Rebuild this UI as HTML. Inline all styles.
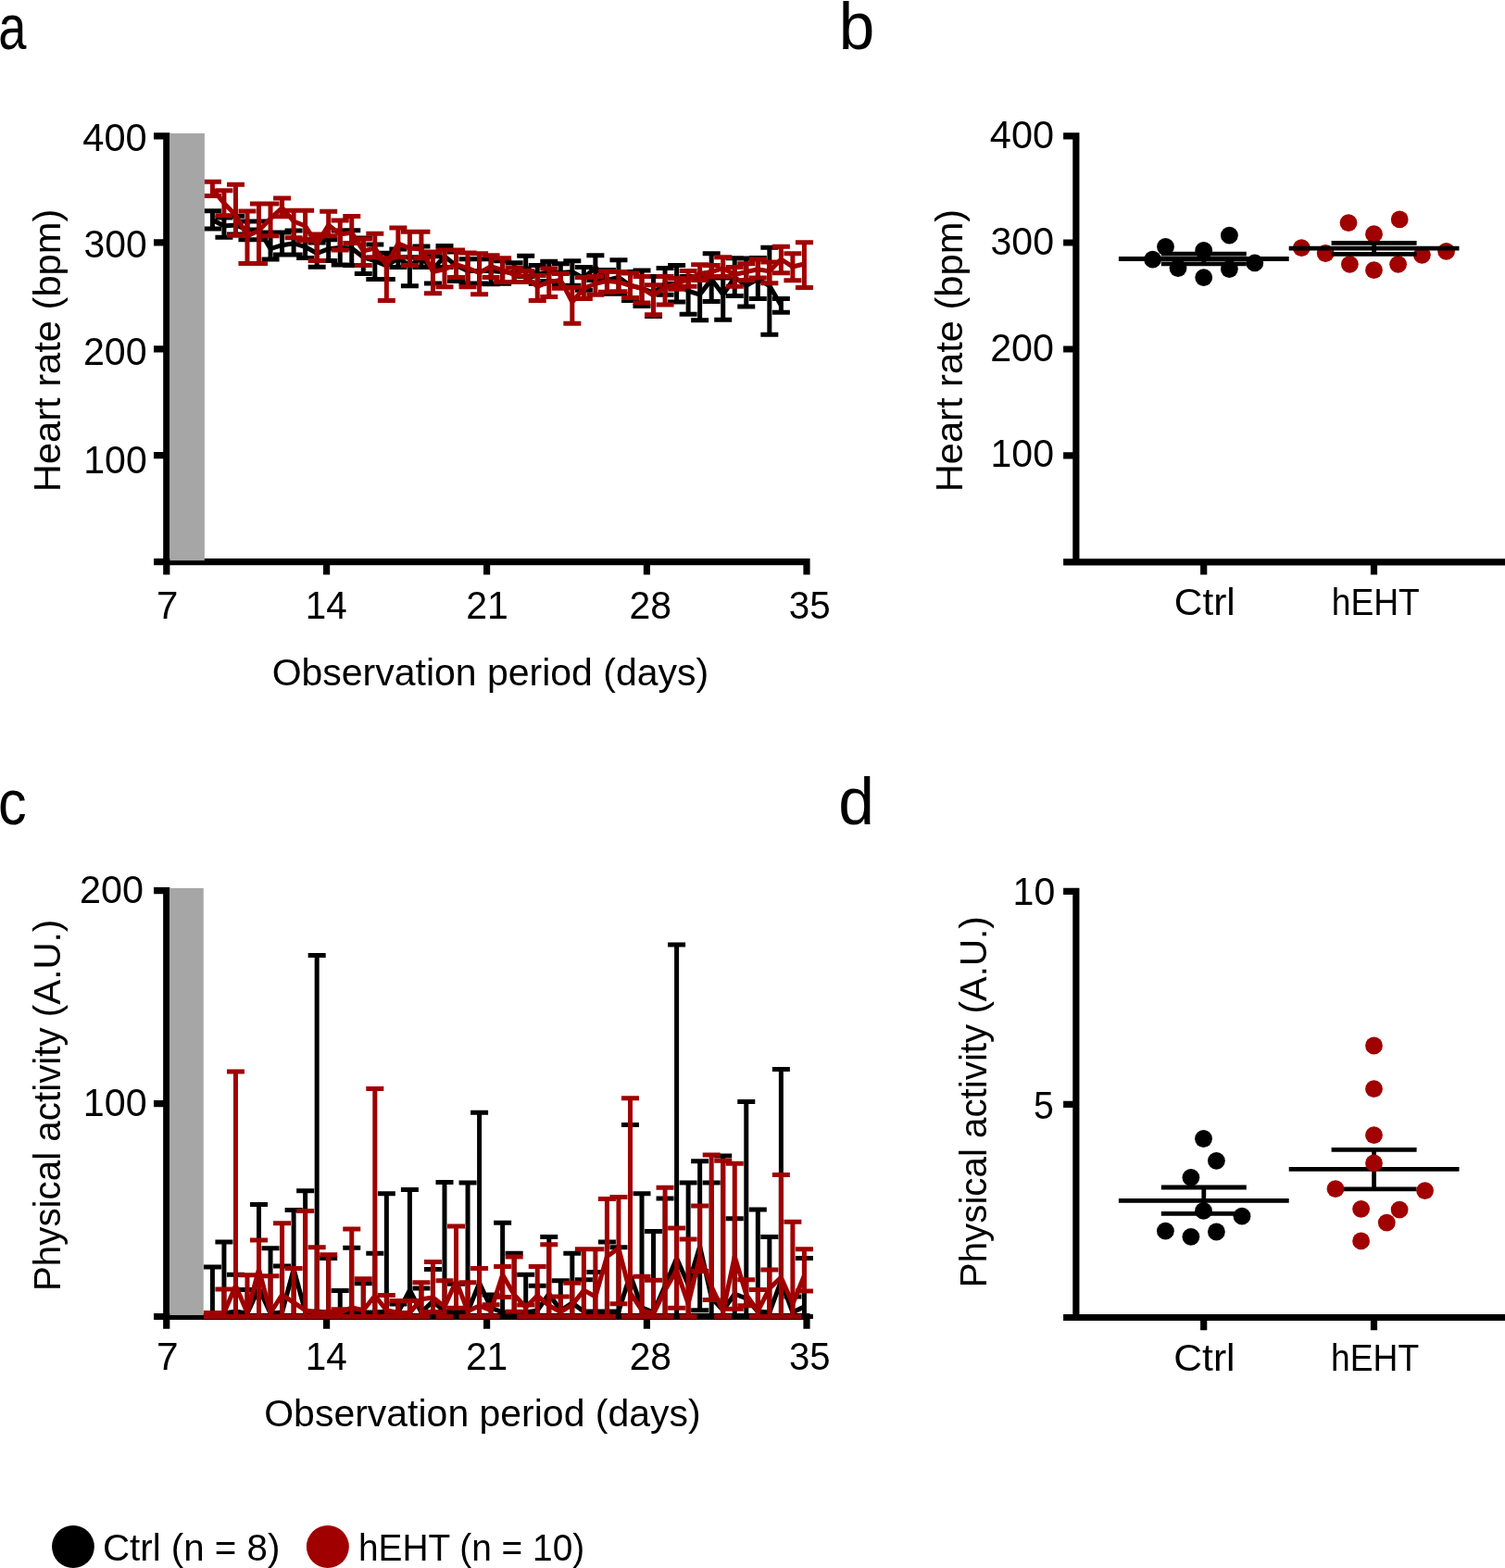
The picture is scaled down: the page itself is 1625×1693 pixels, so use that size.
<!DOCTYPE html>
<html lang="en"><head><meta charset="utf-8"><title>Heart rate and physical activity: Ctrl vs hEHT</title>
<style>
html,body{margin:0;padding:0;background:#fff;}
body{width:1625px;height:1693px;overflow:hidden;}
svg{display:block;font-family:"Liberation Sans", sans-serif;}
</style></head><body>
<svg width="1625" height="1693" viewBox="0 0 1625 1693">
<rect width="1625" height="1693" fill="#fff"/>
<defs><clipPath id="clipc"><rect x="0" y="900" width="900" height="524.9"/></clipPath></defs>
<g id="panel-a">
<path class="axis" d="M179.8 143.3V610.25M166 606.65H874.6M166 146.9H179.8M166 261.85H179.8M166 376.8H179.8M166 491.7H179.8M352.6 606.65V620.5M525.6 606.65V620.5M698.4 606.65V620.5M871 606.65V620.5M179.8 606.65V620.5" stroke="#000" stroke-width="7.2" fill="none"/>
<g class="series" stroke="#000" stroke-width="5" fill="none">
<path d="M229.4 227.8V247M219.9 227.8h19M219.9 247h19M241.93 235V256.3M232.43 235h19M232.43 256.3h19M254.46 233.2V252.9M244.96 233.2h19M244.96 252.9h19M266.99 239V258.8M257.49 239h19M257.49 258.8h19M279.52 239V258.8M270.02 239h19M270.02 258.8h19M292.05 250.9V280M282.55 250.9h19M282.55 280h19M304.58 250.9V275M295.08 250.9h19M295.08 275h19M317.11 249V275M307.61 249h19M307.61 275h19M329.64 258.8V278.5M320.14 258.8h19M320.14 278.5h19M342.17 262V288.3M332.67 262h19M332.67 288.3h19M354.7 258.8V281.4M345.2 258.8h19M345.2 281.4h19M367.23 249V285.9M357.73 249h19M357.73 285.9h19M379.76 248.7V286.6M370.26 248.7h19M370.26 286.6h19M392.29 257V295.5M382.79 257h19M382.79 295.5h19M404.82 264V301.4M395.32 264h19M395.32 301.4h19M417.35 273.3V301.4M407.85 273.3h19M407.85 301.4h19M429.88 269V288.6M420.38 269h19M420.38 288.6h19M442.41 277.8V308.8M432.91 277.8h19M432.91 308.8h19M454.94 266V288.6M445.44 266h19M445.44 288.6h19M467.47 276.8V305.9M457.97 276.8h19M457.97 305.9h19M480 265.5V288.6M470.5 265.5h19M470.5 288.6h19M492.53 272V303.4M483.03 272h19M483.03 303.4h19M505.06 279.8V305.9M495.56 279.8h19M495.56 305.9h19M517.59 279.8V305.9M508.09 279.8h19M508.09 305.9h19M530.12 279.8V306.8M520.62 279.8h19M520.62 306.8h19M542.65 281.7V306.3M533.15 281.7h19M533.15 306.3h19M555.18 283.7V304.4M545.68 283.7h19M545.68 304.4h19M567.71 276.3V298.5M558.21 276.3h19M558.21 298.5h19M580.24 286.6V306.3M570.74 286.6h19M570.74 306.3h19M592.77 282.2V303.4M583.27 282.2h19M583.27 303.4h19M605.3 284.7V308.3M595.8 284.7h19M595.8 308.3h19M617.83 281.7V308.3M608.33 281.7h19M608.33 308.3h19M630.36 288.6V313.2M620.86 288.6h19M620.86 313.2h19M642.89 275.8V302.4M633.39 275.8h19M633.39 302.4h19M655.42 291.6V317.2M645.92 291.6h19M645.92 317.2h19M667.95 280.7V317.2M658.45 280.7h19M658.45 317.2h19M680.48 293.5V324.6M670.98 293.5h19M670.98 324.6h19M693.01 292.1V330.5M683.51 292.1h19M683.51 330.5h19M705.54 298.5V341.5M696.04 298.5h19M696.04 341.5h19M718.07 289.6V318.2M708.57 289.6h19M708.57 318.2h19M730.6 286.6V326M721.1 286.6h19M721.1 326h19M743.13 298.5V339.3M733.63 298.5h19M733.63 339.3h19M755.66 300V345.7M746.16 300h19M746.16 345.7h19M768.19 273.8V325.5M758.69 273.8h19M758.69 325.5h19M780.72 300V345.2M771.22 300h19M771.22 345.2h19M793.25 278.8V319.6M783.75 278.8h19M783.75 319.6h19M805.78 279V331M796.28 279h19M796.28 331h19M818.31 278.6V322.4M808.81 278.6h19M808.81 322.4h19M830.84 267.3V361.3M821.34 267.3h19M821.34 361.3h19M843.37 322.4V337.2M833.87 322.4h19M833.87 337.2h19"/>
<polyline points="229.4,237.6 241.93,244 254.46,243 266.99,248 279.52,248 292.05,268.6 304.58,264.7 317.11,262.7 329.64,266.6 342.17,273.5 354.7,268.6 367.23,267.6 379.76,268 392.29,277.8 404.82,281.7 417.35,287 429.88,278.8 442.41,286.6 454.94,278.8 467.47,290.6 480,276.8 492.53,286.6 505.06,292.6 517.59,292.6 530.12,292.6 542.65,293.5 555.18,294.5 567.71,288.6 580.24,296.5 592.77,293.5 605.3,294.5 617.83,293.5 630.36,300.4 642.89,288.6 655.42,302.4 667.95,299.5 680.48,308.3 693.01,311.3 705.54,316.2 718.07,306.3 730.6,306.3 743.13,314.2 755.66,318.2 768.19,301.4 780.72,318.2 793.25,299.5 805.78,308.3 818.31,301.4 830.84,308.6 843.37,329.8" stroke-linejoin="miter"/>
</g>
<g class="series" stroke="#a00000" stroke-width="5" fill="none">
<path d="M229.4 196.2V211.5M219.9 196.2h19M219.9 211.5h19M241.93 205.8V232.7M232.43 205.8h19M232.43 232.7h19M254.46 199.2V254.3M244.96 199.2h19M244.96 254.3h19M266.99 228V284.4M257.49 228h19M257.49 284.4h19M279.52 220V284.4M270.02 220h19M270.02 284.4h19M292.05 220V254.8M282.55 220h19M282.55 254.8h19M304.58 214V233.7M295.08 214h19M295.08 233.7h19M317.11 227.3V256.8M307.61 227.3h19M307.61 256.8h19M329.64 227.3V259.8M320.14 227.3h19M320.14 259.8h19M342.17 252.9V281.4M332.67 252.9h19M332.67 281.4h19M354.7 228.2V254.8M345.2 228.2h19M345.2 254.8h19M367.23 238.1V270.1M357.73 238.1h19M357.73 270.1h19M379.76 233.5V262.5M370.26 233.5h19M370.26 262.5h19M392.29 258V286.6M382.79 258h19M382.79 286.6h19M404.82 252.2V277.8M395.32 252.2h19M395.32 277.8h19M417.35 278.8V324.6M407.85 278.8h19M407.85 324.6h19M429.88 246V277.8M420.38 246h19M420.38 277.8h19M442.41 250.2V286.6M432.91 250.2h19M432.91 286.6h19M454.94 250.2V278.8M445.44 250.2h19M445.44 278.8h19M467.47 271.9V316.7M457.97 271.9h19M457.97 316.7h19M480 269.9V309.8M470.5 269.9h19M470.5 309.8h19M492.53 269.9V299.5M483.03 269.9h19M483.03 299.5h19M505.06 272.9V309.8M495.56 272.9h19M495.56 309.8h19M517.59 273.8V317.7M508.09 273.8h19M508.09 317.7h19M530.12 275.8V299.5M520.62 275.8h19M520.62 299.5h19M542.65 278.8V304.4M533.15 278.8h19M533.15 304.4h19M555.18 289.1V304.4M545.68 289.1h19M545.68 304.4h19M567.71 292.6V304.4M558.21 292.6h19M558.21 304.4h19M580.24 297.5V324.6M570.74 297.5h19M570.74 324.6h19M592.77 290.1V320.6M583.27 290.1h19M583.27 320.6h19M605.3 295.5V311.3M595.8 295.5h19M595.8 311.3h19M617.83 310.3V349.2M608.33 310.3h19M608.33 349.2h19M630.36 299.5V322.6M620.86 299.5h19M620.86 322.6h19M642.89 298.5V318.2M633.39 298.5h19M633.39 318.2h19M655.42 293V315.2M645.92 293h19M645.92 315.2h19M667.95 293.5V314.7M658.45 293.5h19M658.45 314.7h19M680.48 295V321.6M670.98 295h19M670.98 321.6h19M693.01 298.5V327M683.51 298.5h19M683.51 327h19M705.54 307.8V339.8M696.04 307.8h19M696.04 339.8h19M718.07 298.5V329M708.57 298.5h19M708.57 329h19M730.6 300.4V312.2M721.1 300.4h19M721.1 312.2h19M743.13 292.6V309.3M733.63 292.6h19M733.63 309.3h19M755.66 285.7V302.4M746.16 285.7h19M746.16 302.4h19M768.19 286.6V298.5M758.69 286.6h19M758.69 298.5h19M780.72 277.8V298.5M771.22 277.8h19M771.22 298.5h19M793.25 288.6V309.3M783.75 288.6h19M783.75 309.3h19M805.78 284.7V302.4M796.28 284.7h19M796.28 302.4h19M818.31 280V300M808.81 280h19M808.81 300h19M830.84 283V305.7M821.34 283h19M821.34 305.7h19M843.37 266.3V294.8M833.87 266.3h19M833.87 294.8h19M855.9 273.7V302.7M846.4 273.7h19M846.4 302.7h19M868.43 261.8V310.6M858.93 261.8h19M858.93 310.6h19"/>
<polyline points="229.4,204.1 241.93,219.4 254.46,232.2 266.99,254.8 279.52,249 292.05,236 304.58,224.3 317.11,239 329.64,244 342.17,263.7 354.7,243 367.23,252.9 379.76,251.2 392.29,270.9 404.82,268 417.35,286.6 429.88,263 442.41,268 454.94,269 467.47,293.5 480,290.6 492.53,285.7 505.06,289.6 517.59,294.5 530.12,287.6 542.65,291.6 555.18,296.5 567.71,298.5 580.24,309.3 592.77,304.4 605.3,302.4 617.83,326 630.36,311.3 642.89,306.3 655.42,303.4 667.95,304.4 680.48,308.3 693.01,311.3 705.54,319.1 718.07,310.3 730.6,306.3 743.13,301.4 755.66,295.5 768.19,293.5 780.72,289.6 793.25,296.5 805.78,293.5 818.31,290.9 830.84,292.9 843.37,280 855.9,288 868.43,285" stroke-linejoin="miter"/>
</g>
<rect x="183.4" y="144" width="37.5" height="461.2" fill="#a6a6a6"/>
</g>
<g id="panel-c">
<path class="axis" d="M179.75 958V1425.1M166 1421.5H874.6M166 961.6H179.75M166 1191.55H179.75M352.6 1421.5V1434.8M525.6 1421.5V1434.8M698.4 1421.5V1434.8M871 1421.5V1434.8M179.75 1421.5V1434.8" stroke="#000" stroke-width="7.2" fill="none"/>
<g class="series" stroke="#000" stroke-width="5" fill="none" clip-path="url(#clipc)">
<path d="M229.4 1368V1421.4M219.9 1368h19M219.9 1421.4h19M241.93 1340.9V1421.4M232.43 1340.9h19M232.43 1421.4h19M254.46 1376.3V1421.4M244.96 1376.3h19M244.96 1421.4h19M266.99 1392.6V1421.4M257.49 1392.6h19M257.49 1421.4h19M279.52 1300.5V1421.4M270.02 1300.5h19M270.02 1421.4h19M292.05 1347.8V1421.4M282.55 1347.8h19M282.55 1421.4h19M304.58 1367V1421.4M295.08 1367h19M295.08 1421.4h19M317.11 1306.4V1421.4M307.61 1306.4h19M307.61 1421.4h19M329.64 1285.8V1421.4M320.14 1285.8h19M320.14 1421.4h19M342.17 1031.4V1421.4M332.67 1031.4h19M332.67 1421.4h19M354.7 1358.6V1421.4M345.2 1358.6h19M345.2 1421.4h19M367.23 1393.6V1421.4M357.73 1393.6h19M357.73 1421.4h19M379.76 1347.3V1421.4M370.26 1347.3h19M370.26 1421.4h19M392.29 1385.7V1421.4M382.79 1385.7h19M382.79 1421.4h19M404.82 1353.2V1421.4M395.32 1353.2h19M395.32 1421.4h19M417.35 1288.7V1421.4M407.85 1288.7h19M407.85 1421.4h19M429.88 1407.9V1421.4M420.38 1407.9h19M420.38 1421.4h19M442.41 1284.6V1421.4M432.91 1284.6h19M432.91 1421.4h19M454.94 1391.1V1421.4M445.44 1391.1h19M445.44 1421.4h19M467.47 1370.4V1421.4M457.97 1370.4h19M457.97 1421.4h19M480 1276.4V1421.4M470.5 1276.4h19M470.5 1421.4h19M492.53 1386.2V1421.4M483.03 1386.2h19M483.03 1421.4h19M505.06 1276.9V1421.4M495.56 1276.9h19M495.56 1421.4h19M517.59 1201.3V1421.4M508.09 1201.3h19M508.09 1421.4h19M530.12 1398V1421.4M520.62 1398h19M520.62 1421.4h19M542.65 1320.2V1421.4M533.15 1320.2h19M533.15 1421.4h19M555.18 1353.2V1421.4M545.68 1353.2h19M545.68 1421.4h19M567.71 1376.3V1421.4M558.21 1376.3h19M558.21 1421.4h19M580.24 1388.2V1421.4M570.74 1388.2h19M570.74 1421.4h19M592.77 1335.5V1421.4M583.27 1335.5h19M583.27 1421.4h19M605.3 1382.7V1421.4M595.8 1382.7h19M595.8 1421.4h19M617.83 1353.2V1421.4M608.33 1353.2h19M608.33 1421.4h19M630.36 1381.8V1421.4M620.86 1381.8h19M620.86 1421.4h19M642.89 1373.4V1421.4M633.39 1373.4h19M633.39 1421.4h19M655.42 1340.9V1421.4M645.92 1340.9h19M645.92 1421.4h19M667.95 1346.8V1421.4M658.45 1346.8h19M658.45 1421.4h19M680.48 1214.5V1421.4M670.98 1214.5h19M670.98 1421.4h19M693.01 1288.7V1421.4M683.51 1288.7h19M683.51 1421.4h19M705.54 1329.6V1421.4M696.04 1329.6h19M696.04 1421.4h19M718.07 1294.1V1421.4M708.57 1294.1h19M708.57 1421.4h19M730.6 1019.9V1421.4M721.1 1019.9h19M721.1 1421.4h19M743.13 1276.9V1421.4M733.63 1276.9h19M733.63 1421.4h19M755.66 1253.8V1414.7M746.16 1253.8h19M746.16 1414.7h19M768.19 1276.9V1421.4M758.69 1276.9h19M758.69 1421.4h19M780.72 1248V1421.4M771.22 1248h19M771.22 1421.4h19M793.25 1315.8V1421.4M783.75 1315.8h19M783.75 1421.4h19M805.78 1189.4V1421.4M796.28 1189.4h19M796.28 1421.4h19M818.31 1306V1421.4M808.81 1306h19M808.81 1421.4h19M830.84 1335.5V1421.4M821.34 1335.5h19M821.34 1421.4h19M843.37 1154.4V1421.4M833.87 1154.4h19M833.87 1421.4h19M855.9 1400V1421.4M846.4 1400h19M846.4 1421.4h19M868.43 1358.6V1421.4M858.93 1358.6h19M858.93 1421.4h19"/>
<polyline points="229.4,1418 241.93,1418 254.46,1416 266.99,1418 279.52,1391 292.05,1418 304.58,1417 317.11,1370.4 329.64,1416 342.17,1416 354.7,1417 367.23,1418 379.76,1417 392.29,1417 404.82,1417 417.35,1416 429.88,1417 442.41,1393 454.94,1417 467.47,1405 480,1416 492.53,1417 505.06,1416 517.59,1385.2 530.12,1412 542.65,1417 555.18,1417 567.71,1417 580.24,1415 592.77,1397 605.3,1415 617.83,1406.9 630.36,1416 642.89,1416 655.42,1416 667.95,1416 680.48,1376.3 693.01,1411.8 705.54,1417 718.07,1388.2 730.6,1358.6 743.13,1387 755.66,1345.8 768.19,1401 780.72,1414.7 793.25,1397 805.78,1402 818.31,1416 830.84,1417 843.37,1383.2 855.9,1417 868.43,1410.8" stroke-linejoin="miter"/>
</g>
<g class="series" stroke="#a00000" stroke-width="5" fill="none" clip-path="url(#clipc)">
<path d="M229.4 1417.5V1421.4M219.9 1417.5h19M219.9 1421.4h19M241.93 1392.1V1421.4M232.43 1392.1h19M232.43 1421.4h19M254.46 1157.1V1421.4M244.96 1157.1h19M244.96 1421.4h19M266.99 1376.8V1421.4M257.49 1376.8h19M257.49 1421.4h19M279.52 1338.9V1421.4M270.02 1338.9h19M270.02 1421.4h19M292.05 1377.8V1421.4M282.55 1377.8h19M282.55 1421.4h19M304.58 1320.7V1421.4M295.08 1320.7h19M295.08 1421.4h19M317.11 1369.4V1421.4M307.61 1369.4h19M307.61 1421.4h19M329.64 1307.4V1421.4M320.14 1307.4h19M320.14 1421.4h19M342.17 1346.8V1421.4M332.67 1346.8h19M332.67 1421.4h19M354.7 1354.7V1421.4M345.2 1354.7h19M345.2 1421.4h19M367.23 1413.8V1421.4M357.73 1413.8h19M357.73 1421.4h19M379.76 1327.1V1421.4M370.26 1327.1h19M370.26 1421.4h19M392.29 1380.8V1421.4M382.79 1380.8h19M382.79 1421.4h19M404.82 1175.4V1421.4M395.32 1175.4h19M395.32 1421.4h19M417.35 1398.5V1421.4M407.85 1398.5h19M407.85 1421.4h19M429.88 1404.4V1421.4M420.38 1404.4h19M420.38 1421.4h19M442.41 1404.4V1421.4M432.91 1404.4h19M432.91 1421.4h19M454.94 1384.7V1421.4M445.44 1384.7h19M445.44 1421.4h19M467.47 1362.6V1416.5M457.97 1362.6h19M457.97 1416.5h19M480 1382.7V1421.4M470.5 1382.7h19M470.5 1421.4h19M492.53 1324V1412.3M483.03 1324h19M483.03 1412.3h19M505.06 1384.7V1421.4M495.56 1384.7h19M495.56 1421.4h19M517.59 1369.4V1421.4M508.09 1369.4h19M508.09 1421.4h19M530.12 1408.8V1421.4M520.62 1408.8h19M520.62 1421.4h19M542.65 1367.5V1400.5M533.15 1367.5h19M533.15 1400.5h19M555.18 1357.1V1416.2M545.68 1357.1h19M545.68 1416.2h19M567.71 1409V1421.4M558.21 1409h19M558.21 1421.4h19M580.24 1367.5V1421.4M570.74 1367.5h19M570.74 1421.4h19M592.77 1343.8V1421.4M583.27 1343.8h19M583.27 1421.4h19M605.3 1400V1421.4M595.8 1400h19M595.8 1421.4h19M617.83 1385.2V1421.4M608.33 1385.2h19M608.33 1421.4h19M630.36 1348.8V1421.4M620.86 1348.8h19M620.86 1421.4h19M642.89 1348.8V1421.4M633.39 1348.8h19M633.39 1421.4h19M655.42 1294.6V1421.4M645.92 1294.6h19M645.92 1421.4h19M667.95 1292.6V1407.8M658.45 1292.6h19M658.45 1407.8h19M680.48 1185.8V1421.4M670.98 1185.8h19M670.98 1421.4h19M693.01 1378.3V1421.4M683.51 1378.3h19M683.51 1421.4h19M705.54 1382.2V1421.4M696.04 1382.2h19M696.04 1421.4h19M718.07 1282.3V1421.4M708.57 1282.3h19M708.57 1421.4h19M730.6 1326.1V1412.3M721.1 1326.1h19M721.1 1412.3h19M743.13 1338V1421.4M733.63 1338h19M733.63 1421.4h19M755.66 1302V1372.4M746.16 1302h19M746.16 1372.4h19M768.19 1246.9V1403.4M758.69 1246.9h19M758.69 1403.4h19M780.72 1253.2V1421.4M771.22 1253.2h19M771.22 1421.4h19M793.25 1256.3V1413.3M783.75 1256.3h19M783.75 1413.3h19M805.78 1381.8V1409.8M796.28 1381.8h19M796.28 1409.8h19M818.31 1392.6V1421.4M808.81 1392.6h19M808.81 1421.4h19M830.84 1370.9V1421.4M821.34 1370.9h19M821.34 1421.4h19M843.37 1268.5V1421.4M833.87 1268.5h19M833.87 1421.4h19M855.9 1319.2V1421.4M846.4 1319.2h19M846.4 1421.4h19M868.43 1348.8V1394M858.93 1348.8h19M858.93 1394h19"/>
<polyline points="229.4,1418.5 241.93,1417.5 254.46,1388.2 266.99,1417.5 279.52,1370.4 292.05,1417.5 304.58,1398 317.11,1406.4 329.64,1414.7 342.17,1417.5 354.7,1416 367.23,1417 379.76,1411.8 392.29,1414.7 404.82,1399 417.35,1414.7 429.88,1417.5 442.41,1417.5 454.94,1402.9 467.47,1401 480,1410.8 492.53,1383.2 505.06,1415.7 517.59,1410 530.12,1414.7 542.65,1376.3 555.18,1398 567.71,1411.5 580.24,1399 592.77,1409.8 605.3,1416.7 617.83,1408.8 630.36,1393.1 642.89,1400 655.42,1356.6 667.95,1347.8 680.48,1396 693.01,1414.7 705.54,1418.7 718.07,1393 730.6,1371.4 743.13,1407.8 755.66,1356.6 768.19,1389 780.72,1415.7 793.25,1356.6 805.78,1398 818.31,1415.7 830.84,1391.1 843.37,1379.3 855.9,1407.8 868.43,1377.3" stroke-linejoin="miter"/>
</g>
<rect x="183.3" y="959" width="36.45" height="461" fill="#a6a6a6"/>
</g>
<g id="panel-b">
<path class="axis" d="M1161.85 143.3V610.4M1148.1 606.8H1625M1148.1 146.9H1161.85M1148.1 262H1161.85M1148.1 377H1161.85M1148.1 491.9H1161.85M1299.7 606.8V620.5M1483.5 606.8V620.5" stroke="#000" stroke-width="7.2" fill="none"/>
<g class="dots" fill="#000">
<circle cx="1244.6" cy="280.2" r="9.4"/>
<circle cx="1258.5" cy="266.5" r="9.4"/>
<circle cx="1272" cy="289.5" r="9.4"/>
<circle cx="1299.7" cy="270.5" r="9.4"/>
<circle cx="1299.7" cy="299.7" r="9.4"/>
<circle cx="1327.4" cy="254.2" r="9.4"/>
<circle cx="1327.4" cy="290.5" r="9.4"/>
<circle cx="1354.8" cy="283.9" r="9.4"/>
</g>
<g class="dots" fill="#a00000">
<circle cx="1405.3" cy="267.7" r="9.4"/>
<circle cx="1431.2" cy="273.5" r="9.4"/>
<circle cx="1456" cy="240.6" r="9.4"/>
<circle cx="1457.4" cy="285.3" r="9.4"/>
<circle cx="1483.5" cy="252.7" r="9.4"/>
<circle cx="1483.5" cy="291.7" r="9.4"/>
<circle cx="1511.2" cy="236.9" r="9.4"/>
<circle cx="1509.6" cy="285.3" r="9.4"/>
<circle cx="1535.4" cy="275.3" r="9.4"/>
<circle cx="1561.6" cy="271.4" r="9.4"/>
</g>
<path class="mean" d="M1207.9 279.5h183.8M1253.8 274.2h92M1253.8 284.9h92M1299.8 274.2V284.9" stroke="#000" stroke-width="4.8" fill="none"/>
<path class="mean" d="M1391.7 268.1h183.8M1437.6 262.4h92M1437.6 274.3h92M1483.6 262.4V274.3" stroke="#000" stroke-width="4.8" fill="none"/>
</g>
<g id="panel-d">
<path class="axis" d="M1161.85 958.7V1426.1M1148.1 1422.5H1625M1148.1 962.3H1161.85M1148.1 1192.4H1161.85M1299.7 1422.5V1436.2M1483.5 1422.5V1436.2" stroke="#000" stroke-width="7.2" fill="none"/>
<path class="mean" d="M1207.9 1296.3h183.8M1253.8 1282h92M1253.8 1310.4h92M1299.8 1282V1310.4" stroke="#000" stroke-width="4.8" fill="none"/>
<path class="mean" d="M1391.7 1262.4h183.8M1437.6 1241.3h92M1437.6 1283.9h92M1483.6 1241.3V1283.9" stroke="#000" stroke-width="4.8" fill="none"/>
<g class="dots" fill="#000">
<circle cx="1299.5" cy="1229.5" r="9.4"/>
<circle cx="1313.4" cy="1253.3" r="9.4"/>
<circle cx="1285.9" cy="1271.3" r="9.4"/>
<circle cx="1299.5" cy="1307.4" r="9.4"/>
<circle cx="1341" cy="1313.2" r="9.4"/>
<circle cx="1258.4" cy="1329.2" r="9.4"/>
<circle cx="1285.9" cy="1335.3" r="9.4"/>
<circle cx="1313.4" cy="1330" r="9.4"/>
</g>
<g class="dots" fill="#a00000">
<circle cx="1483.5" cy="1129" r="9.4"/>
<circle cx="1483.5" cy="1175.7" r="9.4"/>
<circle cx="1483.5" cy="1225.7" r="9.4"/>
<circle cx="1483.5" cy="1255.9" r="9.4"/>
<circle cx="1442" cy="1283.6" r="9.4"/>
<circle cx="1538.6" cy="1285.6" r="9.4"/>
<circle cx="1469.6" cy="1305.4" r="9.4"/>
<circle cx="1511.1" cy="1306.1" r="9.4"/>
<circle cx="1497.3" cy="1320.1" r="9.4"/>
<circle cx="1469.6" cy="1339.9" r="9.4"/>
</g>
</g>
<g id="labels" fill="#000">
<text x="-1.68" y="53.3" font-size="68.5" textLength="30.17" lengthAdjust="spacingAndGlyphs">a</text>
<text x="905.67" y="53" font-size="72" textLength="38.57" lengthAdjust="spacingAndGlyphs">b</text>
<text x="-1.96" y="890.1" font-size="68.5" textLength="30.62" lengthAdjust="spacingAndGlyphs">c</text>
<text x="905.2" y="889.7" font-size="72" textLength="38.69" lengthAdjust="spacingAndGlyphs">d</text>
<text x="89.37" y="162.5" font-size="42.5" textLength="69.37" lengthAdjust="spacingAndGlyphs">400</text>
<text x="90.46" y="278.2" font-size="42.5" textLength="68.25" lengthAdjust="spacingAndGlyphs">300</text>
<text x="89.96" y="394" font-size="42.5" textLength="68.76" lengthAdjust="spacingAndGlyphs">200</text>
<text x="90.31" y="510.6" font-size="42.5" textLength="68.41" lengthAdjust="spacingAndGlyphs">100</text>
<text x="1068.87" y="160.3" font-size="42.5" textLength="69.16" lengthAdjust="spacingAndGlyphs">400</text>
<text x="1069.45" y="275.3" font-size="42.5" textLength="68.57" lengthAdjust="spacingAndGlyphs">300</text>
<text x="1069.16" y="389.6" font-size="42.5" textLength="68.87" lengthAdjust="spacingAndGlyphs">200</text>
<text x="1069.5" y="503.9" font-size="42.5" textLength="68.51" lengthAdjust="spacingAndGlyphs">100</text>
<text x="85.95" y="975.1" font-size="42.5" textLength="69.08" lengthAdjust="spacingAndGlyphs">200</text>
<text x="89.78" y="1204.8" font-size="42.5" textLength="68.94" lengthAdjust="spacingAndGlyphs">100</text>
<text x="1093.6" y="977.3" font-size="42.5" textLength="45.73" lengthAdjust="spacingAndGlyphs">10</text>
<text x="1116.08" y="1207.8" font-size="42.5" textLength="21.83" lengthAdjust="spacingAndGlyphs">5</text>
<text x="169.12" y="667.5" font-size="42.5" textLength="23.4" lengthAdjust="spacingAndGlyphs">7</text>
<text x="329.85" y="667.5" font-size="42.5" textLength="44.93" lengthAdjust="spacingAndGlyphs">14</text>
<text x="503.27" y="667.5" font-size="42.5" textLength="45.7" lengthAdjust="spacingAndGlyphs">21</text>
<text x="679.57" y="667.5" font-size="42.5" textLength="45.54" lengthAdjust="spacingAndGlyphs">28</text>
<text x="851.83" y="667.5" font-size="42.5" textLength="44.86" lengthAdjust="spacingAndGlyphs">35</text>
<text x="169.1" y="1479.3" font-size="42.5" textLength="23.64" lengthAdjust="spacingAndGlyphs">7</text>
<text x="329.64" y="1479.3" font-size="42.5" textLength="45.04" lengthAdjust="spacingAndGlyphs">14</text>
<text x="502.88" y="1479.3" font-size="42.5" textLength="45.37" lengthAdjust="spacingAndGlyphs">21</text>
<text x="679.68" y="1479.3" font-size="42.5" textLength="45.32" lengthAdjust="spacingAndGlyphs">28</text>
<text x="851.89" y="1479.3" font-size="42.5" textLength="44.59" lengthAdjust="spacingAndGlyphs">35</text>
<text x="1267.83" y="664.3" font-size="41" textLength="65.93" lengthAdjust="spacingAndGlyphs">Ctrl</text>
<text x="1437.7" y="664.3" font-size="41" textLength="95.13" lengthAdjust="spacingAndGlyphs">hEHT</text>
<text x="1267.32" y="1479.5" font-size="41" textLength="66.25" lengthAdjust="spacingAndGlyphs">Ctrl</text>
<text x="1437.1" y="1479.5" font-size="41" textLength="95.13" lengthAdjust="spacingAndGlyphs">hEHT</text>
<text x="293.65" y="739.9" font-size="41" textLength="471.53" lengthAdjust="spacingAndGlyphs">Observation period (days)</text>
<text x="285.25" y="1539.9" font-size="41" textLength="471.43" lengthAdjust="spacingAndGlyphs">Observation period (days)</text>
<text x="110.93" y="1685.2" font-size="41" textLength="191.47" lengthAdjust="spacingAndGlyphs">Ctrl (n = 8)</text>
<text x="386.9" y="1685.2" font-size="41" textLength="244.28" lengthAdjust="spacingAndGlyphs">hEHT (n = 10)</text>
<text x="64.55" y="531.2" font-size="41" textLength="305.56" lengthAdjust="spacingAndGlyphs" transform="rotate(-90 64.55 531.2)">Heart rate (bpm)</text>
<text x="1039.4" y="531.3" font-size="41" textLength="305.56" lengthAdjust="spacingAndGlyphs" transform="rotate(-90 1039.4 531.3)">Heart rate (bpm)</text>
<text x="64.8" y="1394.1" font-size="41" textLength="401.32" lengthAdjust="spacingAndGlyphs" transform="rotate(-90 64.8 1394.1)">Physical activity (A.U.)</text>
<text x="1064.7" y="1390.19" font-size="41" textLength="400.81" lengthAdjust="spacingAndGlyphs" transform="rotate(-90 1064.7 1390.19)">Physical activity (A.U.)</text>
</g>
<g id="legend">
<circle cx="78.95" cy="1670" r="22.9" fill="#000"/>
<circle cx="353.85" cy="1670" r="23" fill="#a00000"/>
</g>
</svg>
</body></html>
